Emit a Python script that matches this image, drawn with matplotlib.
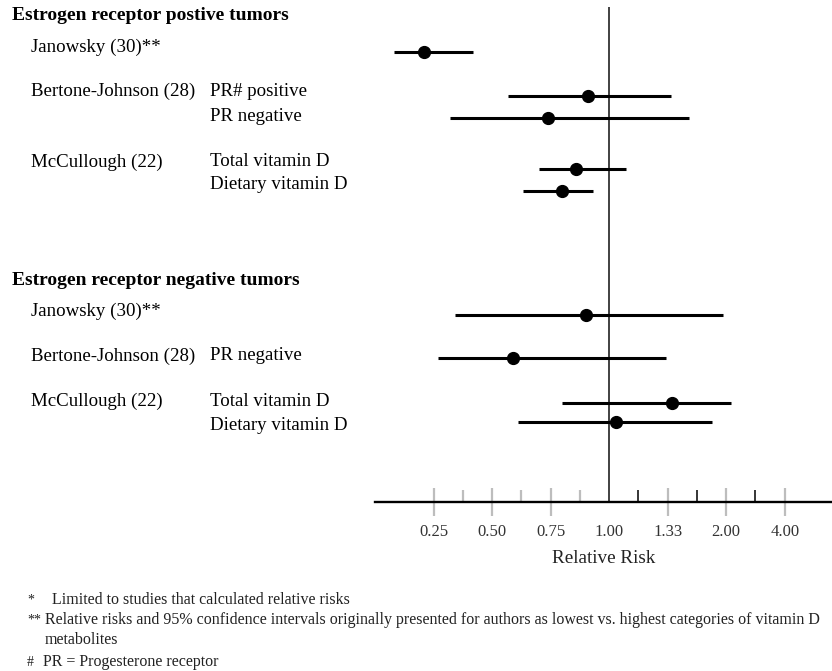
import numpy as np
import matplotlib
matplotlib.use("Agg")
import matplotlib.pyplot as plt
from matplotlib.ticker import FixedLocator, NullFormatter
from matplotlib.transforms import blended_transform_factory

plt.rcParams["font.family"] = ["Liberation Serif", "DejaVu Serif"]

# --- data ---
headings = ["Estrogen receptor postive tumors", "Estrogen receptor negative tumors"]
studies = ["Janowsky (30)**", "Bertone-Johnson (28)", "", "McCullough (22)", "",
           "Janowsky (30)**", "Bertone-Johnson (28)", "McCullough (22)", ""]
subgroups = ["", "PR# positive", "PR negative", "Total vitamin D", "Dietary vitamin D",
             "", "PR negative", "Total vitamin D", "Dietary vitamin D"]
rr = [0.21, 0.91, 0.74, 0.86, 0.80, 0.90, 0.59, 1.37, 1.03]
ci_low = [0.08, 0.57, 0.32, 0.70, 0.63, 0.34, 0.27, 0.80, 0.61]
ci_high = [0.42, 1.36, 1.52, 1.08, 0.93, 1.94, 1.32, 2.09, 1.78]

tick_values = [0.25, 0.50, 0.75, 1.00, 4 / 3, 2.00, 4.00]
tick_labels = ["0.25", "0.50", "0.75", "1.00", "1.33", "2.00", "4.00"]
minor_values = [0.375, 0.625, 0.875, 8 / 7, 1.6, 8 / 3]

footnotes = [("*", "Limited to studies that calculated relative risks"),
             ("**", "Relative risks and 95% confidence intervals originally presented for authors "
                    "as lowest vs. highest categories of vitamin D"),
             ("", "metabolites"),
             ("#", "PR = Progesterone receptor")]

# --- layout (row slots, top = 0) ---
heading_y = [0.4, 12.25]
bar_y = [2.0, 4.0, 5.0, 7.25, 8.25, 13.8, 15.75, 17.75, 18.6]
label_y = [1.8, 3.8, 4.9, 6.95, 7.98, 13.65, 15.65, 17.7, 18.75]


# symmetric relative-risk axis: 0.25..1 linear, above 1 by reciprocal
def fwd(x):
    x = np.asarray(x, dtype=float)
    with np.errstate(divide="ignore", invalid="ignore"):
        return np.where(x <= 1, 4 * x - 1, 7 - 4 / x)


def inv(p):
    p = np.asarray(p, dtype=float)
    with np.errstate(divide="ignore", invalid="ignore"):
        return np.where(p <= 3, (p + 1) / 4, 4 / (7 - p))


fig = plt.figure(figsize=(8.32, 6.71), dpi=100)
ax = fig.add_axes([375 / 832, 1 - 502 / 671, 457 / 832, 495 / 671])
ax.set_xscale("function", functions=(fwd, inv))
ax.set_xlim(0, 20.8)
ax.set_ylim(22.2, 0)

rr_a = np.array(rr)
xerr = [rr_a - np.array(ci_low), np.array(ci_high) - rr_a]
ax.errorbar(rr, bar_y, xerr=xerr, fmt="o", color="black", ms=8.5,
            elinewidth=2.2, capsize=0, zorder=3)
ax.axvline(1.0, color="#333333", lw=1.3, zorder=2)

for s in ["top", "right", "left"]:
    ax.spines[s].set_visible(False)
ax.spines["bottom"].set_linewidth(1.7)
ax.set_yticks([])

ax.xaxis.set_major_locator(FixedLocator(tick_values))
ax.set_xticklabels(tick_labels)
ax.xaxis.set_minor_locator(FixedLocator(minor_values))
ax.xaxis.set_minor_formatter(NullFormatter())
ax.tick_params(axis="x", which="major", direction="inout", length=20, width=1.6,
               color="#bdbdbd", pad=6, labelsize=12, labelcolor="#333333")
ax.tick_params(axis="x", which="minor", direction="in", length=9, width=1.0)
for i, t in enumerate(ax.xaxis.get_minor_ticks()):
    t.tick1line.set_markeredgecolor("#bdbdbd" if i < 3 else "black")
    t.tick1line.set_markeredgewidth(1.6 if i < 3 else 1.1)
ax.xaxis.get_major_ticks()[3].tick1line.set_visible(False)
ax.set_xlabel("Relative Risk", fontsize=13.8, labelpad=7, color="#222222")

# row labels on the left
tr = blended_transform_factory(fig.transFigure, ax.transData)
for h, y in zip(headings, heading_y):
    ax.text(12 / 832, y, h, transform=tr, fontsize=14, fontweight="bold",
            va="center", ha="left", clip_on=False)
for st, sg, y in zip(studies, subgroups, label_y):
    if st:
        ax.text(31 / 832, y, st, transform=tr, fontsize=13.6, va="center", clip_on=False)
    if sg:
        ax.text(210 / 832, y, sg, transform=tr, fontsize=13.6, va="center", clip_on=False)

# footnotes
note_y = [600, 620, 640, 662]
for (mark, txt), y in zip(footnotes, note_y):
    fy = 1 - y / 671
    if mark:
        fig.text(27 / 832, fy, mark, fontsize=10, va="center", color="#222222")
    x0 = 52 if mark == "*" else 45 if mark == "**" or not mark else 43
    fig.text(x0 / 832, fy, txt, fontsize=11.5, va="center", color="#222222")

fig.savefig("out.png", dpi=100)
